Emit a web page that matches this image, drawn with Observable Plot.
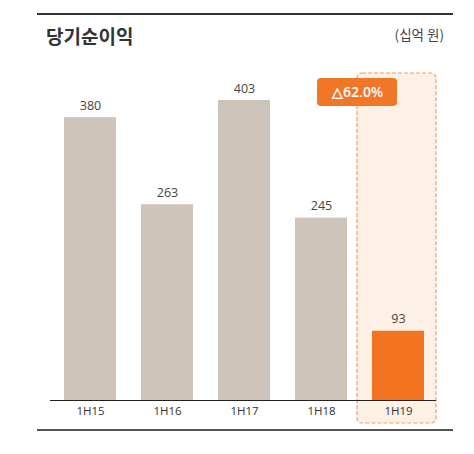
<!DOCTYPE html>
<html>
<head>
<meta charset="utf-8">
<script src="https://cdn.jsdelivr.net/npm/d3@7"></script>
<script src="https://cdn.jsdelivr.net/npm/@observablehq/plot@0.6"></script>
<style>
  html, body { margin: 0; padding: 0; background: #fff; }
  #wrap { position: relative; width: 474px; height: 454px; font-family: "Open Sans", "Noto Sans CJK KR", sans-serif; }
  .rule { position: absolute; left: 37px; width: 416px; height: 2px; }
  #title { position: absolute; left: 46px; top: 22px; font-family: "Noto Sans CJK KR", sans-serif; font-weight: 700; font-size: 19px; color: #333; line-height: 27px; }
  #unit { position: absolute; right: 30px; top: 25px; font-family: "Noto Sans CJK KR", sans-serif; font-size: 13.5px; color: #444; line-height: 18px; }
  #chart { position: absolute; left: 0; top: 0; }
</style>
</head>
<body>
<div id="wrap">
  <div id="chart"></div>
  <div class="rule" style="top:13px;background:#333;"></div>
  <div id="title">당기순이익</div>
  <div id="unit">(십억 원)</div>
  <div class="rule" style="top:429px;background:#555;"></div>
</div>
<script>
const periods = ["1H15", "1H16", "1H17", "1H18", "1H19"];
const netIncome = [380, 263, 403, 245, 93];
const highlightPeriod = "1H19";
const changeLabel = "△62.0%";

const data = periods.map((p, i) => ({period: p, value: netIncome[i]}));
const hl = data.filter(d => d.period === highlightPeriod);
const maxVal = d3.max(netIncome);

const chart = Plot.plot({
  width: 474,
  height: 454,
  marginLeft: 50,
  marginRight: 38,
  marginTop: 20,
  marginBottom: 54,
  style: {background: "transparent", fontFamily: "'Open Sans', sans-serif", overflow: "visible"},
  x: {domain: periods, range: [63, 424], paddingInner: 0.33, paddingOuter: 0, label: null},
  y: {domain: [0, maxVal], range: [400, 100], axis: null},
  marks: [
    // highlight dashed box
    Plot.rect(hl, {x: "period", y1: 0, y2: maxVal, fill: "#fdf1e5", stroke: "#f0a062", strokeWidth: 1.2, strokeDasharray: "4,2", rx: 5,
      insetLeft: -15, insetRight: -12, insetTop: -27, insetBottom: -23}),
    Plot.barY(data, {x: "period", y: "value", fill: d => d.period === highlightPeriod ? "#f37321" : "#cfc4ba"}),
    Plot.ruleY([0], {stroke: "#222", strokeWidth: 1.2}),
    Plot.text(data, {x: "period", y: "value", text: d => String(d.value), dy: -12, fontSize: 12.5, fill: "#444"}),
    // change badge
    Plot.rect(hl, {x: "period", y1: maxVal, y2: maxVal, fill: "#f07628", rx: 4,
      insetLeft: -55, insetRight: 27, insetTop: -22, insetBottom: -6}),
    Plot.text(hl, {x: "period", y: maxVal, text: () => changeLabel, dx: -41, dy: -8, fill: "#fff", fontSize: 14, fontWeight: 600}),
    Plot.axisX({tickSize: 0, tickPadding: 6, fontSize: 11.5, color: "#333"})
  ]
});
document.getElementById("chart").appendChild(chart);
</script>
</body>
</html>
